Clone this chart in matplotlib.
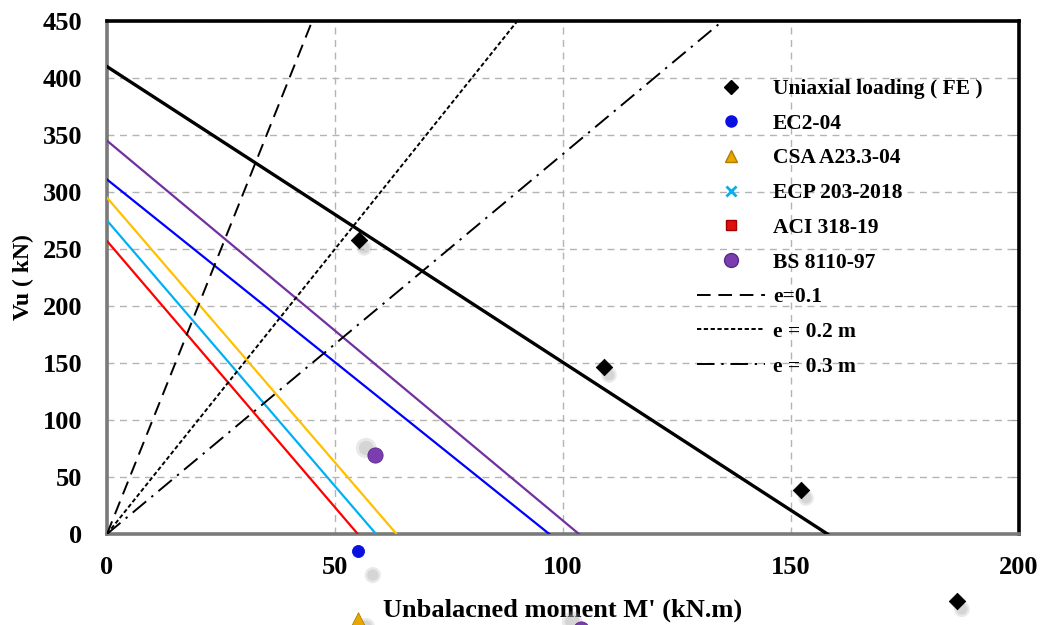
import matplotlib
matplotlib.use("Agg")
import matplotlib.pyplot as plt
from matplotlib import transforms
from matplotlib.lines import Line2D
import numpy as np

plt.rcParams["font.family"] = ["Liberation Serif", "DejaVu Serif"]
plt.rcParams["font.weight"] = "bold"

# ---- data ----
# interaction lines: Vu-intercept (kN) and M'-intercept (kN.m)
line_names = ["Uniaxial (FE)", "BS 8110-97", "EC2-04", "CSA A23.3-04", "ECP 203-2018", "ACI 318-19"]
line_v0 = [410, 345, 311, 295, 275, 257]
line_m0 = [158, 103.5, 97, 63.5, 59, 55]

# eccentricity rays Vu = M / e
ecc_values = [0.1, 0.2, 0.3]
ecc_labels = ["e=0.1", "e = 0.2 m", "e = 0.3 m"]

# scattered points (several lie outside the axes, as in the reference)
fe_m = [55.3, 109.0, 152.2, 186.4]
fe_v = [258, 146.5, 38.6, -59]
ec2_m = [55.0]
ec2_v = [-15]
csa_m = [55.0]
csa_v = [-74.5]
ecp_m = []
ecp_v = []
aci_m = []
aci_v = []
bs_m = [58.8, 104.0]
bs_v = [69.3, -83]

fig = plt.figure(figsize=(10.44, 6.25), dpi=100)
ax = fig.add_axes([0.1025, 0.1456, 0.8735, 0.8208])

line_colors = ["black", "#7030A0", "#0000FF", "#FFC000", "#00B0F0", "#FF0000"]
line_widths = [2.4, 1.6, 1.6, 1.6, 1.6, 1.6]
for v0, m0, c, lw in zip(line_v0, line_m0, line_colors, line_widths):
    ax.plot([0, m0], [v0, 0], color=c, lw=lw, zorder=3)

ecc_styles = [(0, (7, 4)), (0, (2.2, 1.3)), (0, (9, 3.5, 1.2, 3.5))]
m_ray = np.array([0.0, 200.0])
ecc_handles = []
for e, ls, lab in zip(ecc_values, ecc_styles, ecc_labels):
    h, = ax.plot(m_ray, m_ray / e, color="black", lw=1.4, ls=ls, zorder=3, label=lab)
    ecc_handles.append(h)


def shadowed(mx, vy, marker, color, size, dx, dy, label, edge=None):
    if len(mx):
        sh = transforms.offset_copy(ax.transData, fig=fig, x=dx, y=dy, units="dots")
        ax.scatter(mx, vy, s=size * 1.8, marker="o", color="#a8a8a8", alpha=0.25,
                   edgecolors="none", transform=sh, clip_on=False, zorder=4)
        ax.scatter(mx, vy, s=size * 0.9, marker="o", color="#b0b0b0", alpha=0.35,
                   edgecolors="none", transform=sh, clip_on=False, zorder=4)
    return ax.scatter(mx, vy, s=size, marker=marker, color=color,
                      edgecolors=edge if edge else color, linewidths=0.6,
                      clip_on=False, zorder=5, label=label)


h_fe = shadowed(fe_m, fe_v, "D", "black", 70, 5, -8, "Uniaxial loading ( FE )")
h_ec2 = shadowed(ec2_m, ec2_v, "o", "#0A10E0", 75, 15, -24, "EC2-04")
h_csa = shadowed(csa_m, csa_v, "^", "#E8A800", 95, 8, -8, "CSA A23.3-04", edge="#B07D00")
h_ecp = shadowed(ecp_m, ecp_v, "x", "#00B0F0", 60, 6, -6, "ECP 203-2018")
h_aci = shadowed(aci_m, aci_v, "s", "#E01010", 65, 6, -6, "ACI 318-19", edge="#A00000")
h_bs = shadowed(bs_m, bs_v, "o", "#7B3DB0", 120, -9, 7, "BS 8110-97", edge="#5A2A88")

ax.set_xlim(0, 200)
ax.set_ylim(0, 450)
ax.set_xticks(np.arange(0, 201, 50))
ax.set_yticks(np.arange(0, 451, 50))
ax.grid(True, color="#b4b4b4", ls=(0, (5, 4)), lw=1.0, zorder=0)
ax.tick_params(axis="both", labelsize=19, length=0)
ax.tick_params(axis="x", pad=16)
ax.tick_params(axis="y", pad=18)
ax.tick_params(axis="y", which="both", right=True, direction="in", length=5, color="#a0a0a0")
ax.tick_params(axis="y", left=False)
for lab in ax.get_xticklabels() + ax.get_yticklabels():
    lab.set_fontweight("bold")

for side in ["left", "bottom"]:
    ax.spines[side].set_color("#7a7a7a")
    ax.spines[side].set_linewidth(2.6)
for side in ["top", "right"]:
    ax.spines[side].set_color("black")
    ax.spines[side].set_linewidth(2.6)

ax.set_xlabel("Unbalacned moment M' (kN.m)", fontsize=19, fontweight="bold", labelpad=14)
ax.set_ylabel("Vu ( kN)", fontsize=17, fontweight="bold", labelpad=6)

# proxy handles for the legend (markers without shadow)
proxy = [
    Line2D([], [], ls="none", marker="D", color="black", markersize=7),
    Line2D([], [], ls="none", marker="o", color="#0A10E0", markersize=8),
    Line2D([], [], ls="none", marker="^", color="#E8A800", markeredgecolor="#B07D00", markersize=8),
    Line2D([], [], ls="none", marker="x", color="#00B0F0", markersize=7, markeredgewidth=2),
    Line2D([], [], ls="none", marker="s", color="#E01010", markeredgecolor="#A00000", markersize=7),
    Line2D([], [], ls="none", marker="o", color="#7B3DB0", markeredgecolor="#5A2A88", markersize=10),
]
labels = ["Uniaxial loading ( FE )", "EC2-04", "CSA A23.3-04", "ECP 203-2018",
          "ACI 318-19", "BS 8110-97"] + ecc_labels
leg = fig.legend(proxy + ecc_handles, labels, loc="upper left",
                 bbox_to_anchor=(697 / 1044, 1 - 79 / 625), frameon=False,
                 fontsize=15.5, handlelength=3.15, handletextpad=0.37,
                 labelspacing=0.68, borderpad=0, borderaxespad=0)
for t in leg.get_texts():
    t.set_fontweight("bold")

fig.savefig("out.png", dpi=100)
